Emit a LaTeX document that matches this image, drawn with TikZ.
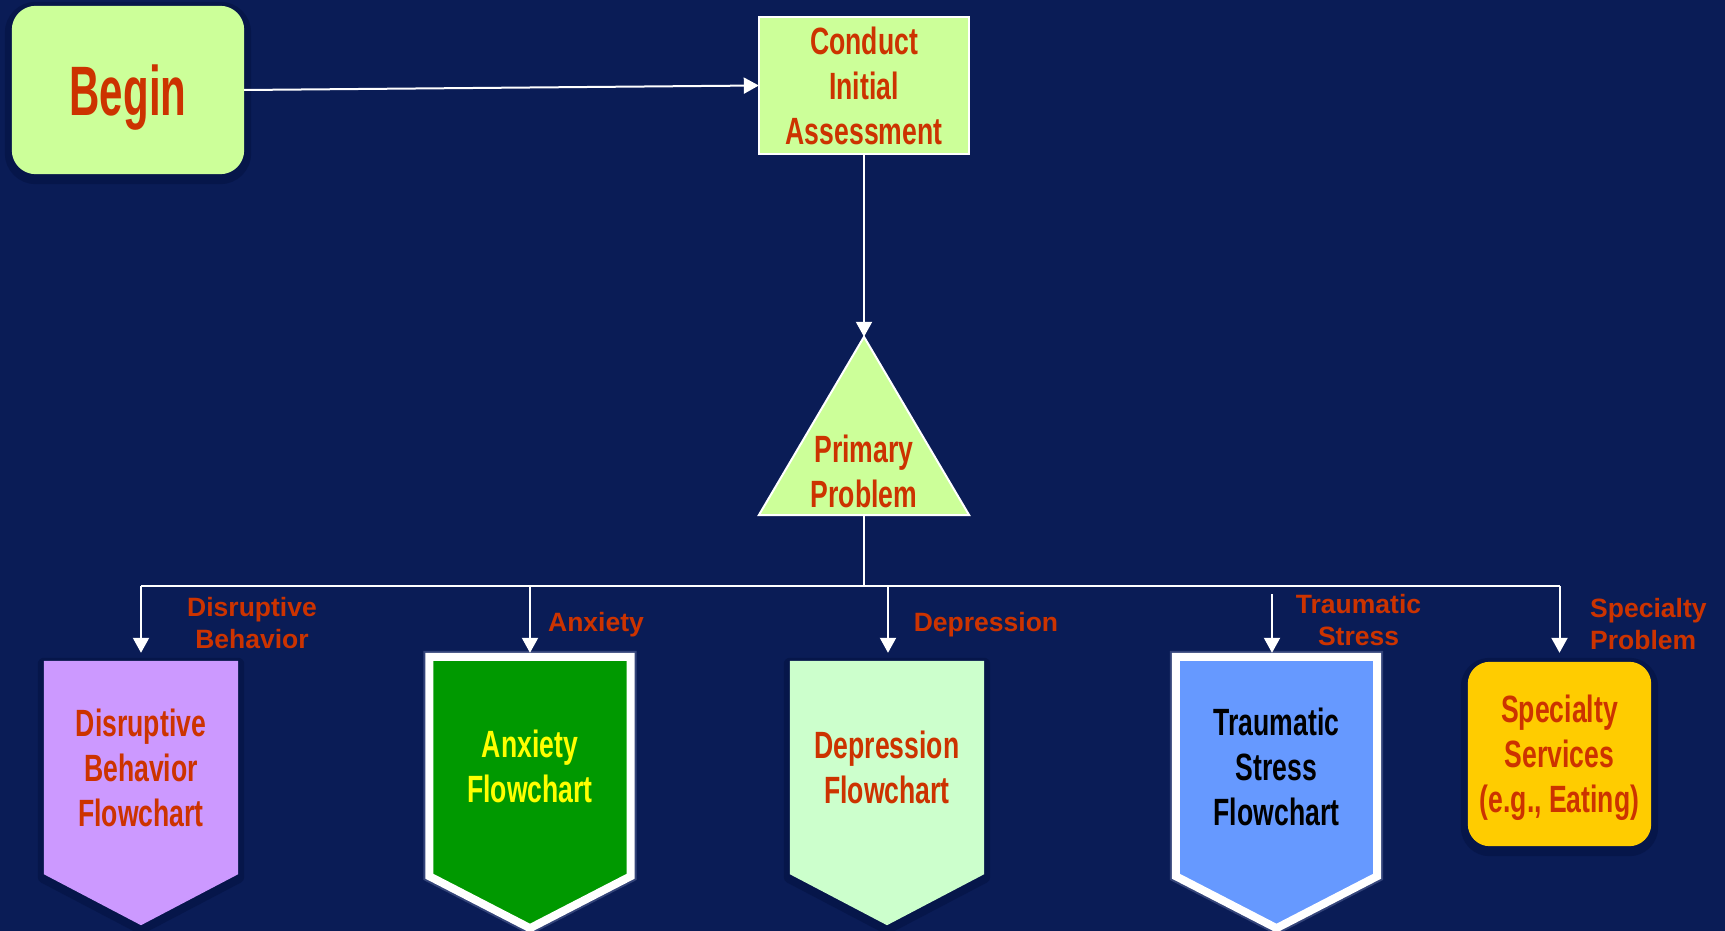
\documentclass[tikz,border=0pt]{standalone}
\usepackage{fontspec}
\setmainfont{Liberation Sans}
\newfontfamily\agency[FakeStretch=0.7]{Liberation Sans}
\newfontfamily\agencybig[FakeStretch=0.6]{Liberation Sans}
\usetikzlibrary{arrows.meta,calc}
\definecolor{bg}{HTML}{0A1C56}
\definecolor{shadowc}{HTML}{06164A}
\definecolor{glowc}{HTML}{34447A}
\definecolor{labred}{HTML}{CC3300}
\definecolor{limec}{HTML}{CCFF99}
\definecolor{purplec}{HTML}{CC99FF}
\definecolor{greenc}{HTML}{009900}
\definecolor{mintc}{HTML}{CCFFCC}
\definecolor{bluec}{HTML}{6699FF}
\definecolor{goldc}{HTML}{FFCC00}
\definecolor{yellowtxt}{HTML}{FFFF00}
\pgfdeclarelayer{back}
\pgfdeclarelayer{shp}
\pgfsetlayers{back,shp,main}
\newcommand\chevpath[2]{(#1.north west) -- (#1.north east) -- (#1.south east) -- ([yshift=-#2]#1.south) -- (#1.south west) -- cycle}
\begin{document}
\begin{tikzpicture}[x=1pt,y=-1pt,
  conn/.style={draw=white,line width=2pt},
  arr/.style={conn,-{Triangle[length=15pt,width=16pt]}},
  tag/.style={font=\fontsize{26.5}{32}\selectfont\bfseries,text=labred,align=center,inner sep=0pt},
  boxtext/.style={font=\agency\bfseries\fontsize{38}{45}\selectfont,align=center,inner sep=0pt},
  area/.style={rectangle,inner sep=0pt,draw=none,fill=none},
]
\useasboundingbox (0,0) rectangle (1725,931);
\clip (0,0) rectangle (1725,931);
\begin{pgfonlayer}{back}
\fill[bg] (0,0) rectangle (1725,931);
\end{pgfonlayer}

% nodes
\node[area, minimum width=232pt, minimum height=168pt, text depth=0pt,
      font=\agencybig\bfseries\fontsize{70}{80}\selectfont, text=labred] (begin) at (128,90) {Begin};
\node[area, boxtext, minimum width=210pt, minimum height=137pt, text=labred] (conduct) at (864,85.5) {Conduct\\Initial\\Assessment};
\node[area, minimum width=210pt, minimum height=178pt] (prim) at (864,426) {};
\node[boxtext, text=labred] (primtxt) at (864,471.5) {Primary\\Problem};
\node[area, boxtext, minimum width=194pt, minimum height=213pt, text=labred] (dbf) at (141,767.5) {Disruptive\\Behavior\\Flowchart};
\node[area, boxtext, minimum width=201pt, minimum height=219pt, text=yellowtxt] (anx) at (530,766.5) {Anxiety\\Flowchart};
\node[area, boxtext, minimum width=194pt, minimum height=213pt, text=labred] (dep) at (887,767.5) {Depression\\Flowchart};
\node[area, boxtext, minimum width=201pt, minimum height=219pt, text=black] (trs) at (1276.5,766.5) {Traumatic\\Stress\\Flowchart};
\node[area, boxtext, minimum width=183pt, minimum height=184pt, text=labred] (spc) at (1559.5,758) {Specialty\\Services\\(e.g., Eating)};

% shapes
\begin{pgfonlayer}{shp}
\begin{scope}[transform canvas={yshift=-3pt}]
  \filldraw[shadowc, line width=14pt, rounded corners=24pt] (begin.north west) rectangle (begin.south east);
  \filldraw[shadowc, line width=12pt, line join=round] \chevpath{dbf}{51pt};
  \filldraw[shadowc, line width=12pt, line join=round] \chevpath{dep}{51pt};
  \filldraw[shadowc, line width=14pt, rounded corners=22pt] ([yshift=4pt]spc.north west) rectangle ([yshift=4pt]spc.south east);
\end{scope}
\fill[limec, rounded corners=24pt] (begin.north west) rectangle (begin.south east);
\filldraw[fill=limec, draw=white, line width=2pt] (conduct.north west) rectangle (conduct.south east);
\filldraw[fill=limec, draw=white, line width=2pt] (prim.north) -- (prim.south east) -- (prim.south west) -- cycle;
\fill[purplec] \chevpath{dbf}{51pt};
\fill[mintc] \chevpath{dep}{51pt};
\draw[glowc, line width=12pt] \chevpath{anx}{52pt};
\filldraw[fill=greenc, draw=white, line width=8pt] \chevpath{anx}{52pt};
\draw[glowc, line width=12pt] \chevpath{trs}{52pt};
\filldraw[fill=bluec, draw=white, line width=8pt] \chevpath{trs}{52pt};
\fill[goldc, rounded corners=22pt] ([yshift=4pt]spc.north west) rectangle ([yshift=4pt]spc.south east);
\end{pgfonlayer}

% connectors
\coordinate (hub) at (864,586);
\coordinate (jl) at (141,586);
\coordinate (jr) at (1559.5,586);
\coordinate (ja) at (530,586);
\coordinate (jd) at (888,586);
\coordinate (ts) at (1272,594);
\draw[arr] (begin.east) -- (conduct.west);
\draw[arr] (conduct.south) -- (prim.north);
\draw[conn] (prim.south) -- (hub);
\draw[conn] (jl) -- (jr);
\draw[arr, shorten >=8pt] (jl) -- (dbf.north);
\draw[arr, shorten >=4pt] (ja) -- (anx.north);
\draw[arr, shorten >=8pt] (jd) -- (jd |- dep.north);
\draw[arr, shorten >=4pt] (ts) -- (ts |- trs.north);
\draw[arr, shorten >=13pt] (jr) -- (spc.north);

% branch labels
\node[tag] (l1) at (252,623) {Disruptive\\Behavior};
\node[tag] (l2) at (596,625) {Anxiety};
\node[tag] (l3) at (986,625) {Depression};
\node[tag] (l4) at (1358.5,620) {Traumatic\\Stress};
\node[tag, anchor=west, align=left] (l5) at (1590,624) {Specialty\\Problem};
\end{tikzpicture}
\end{document}
